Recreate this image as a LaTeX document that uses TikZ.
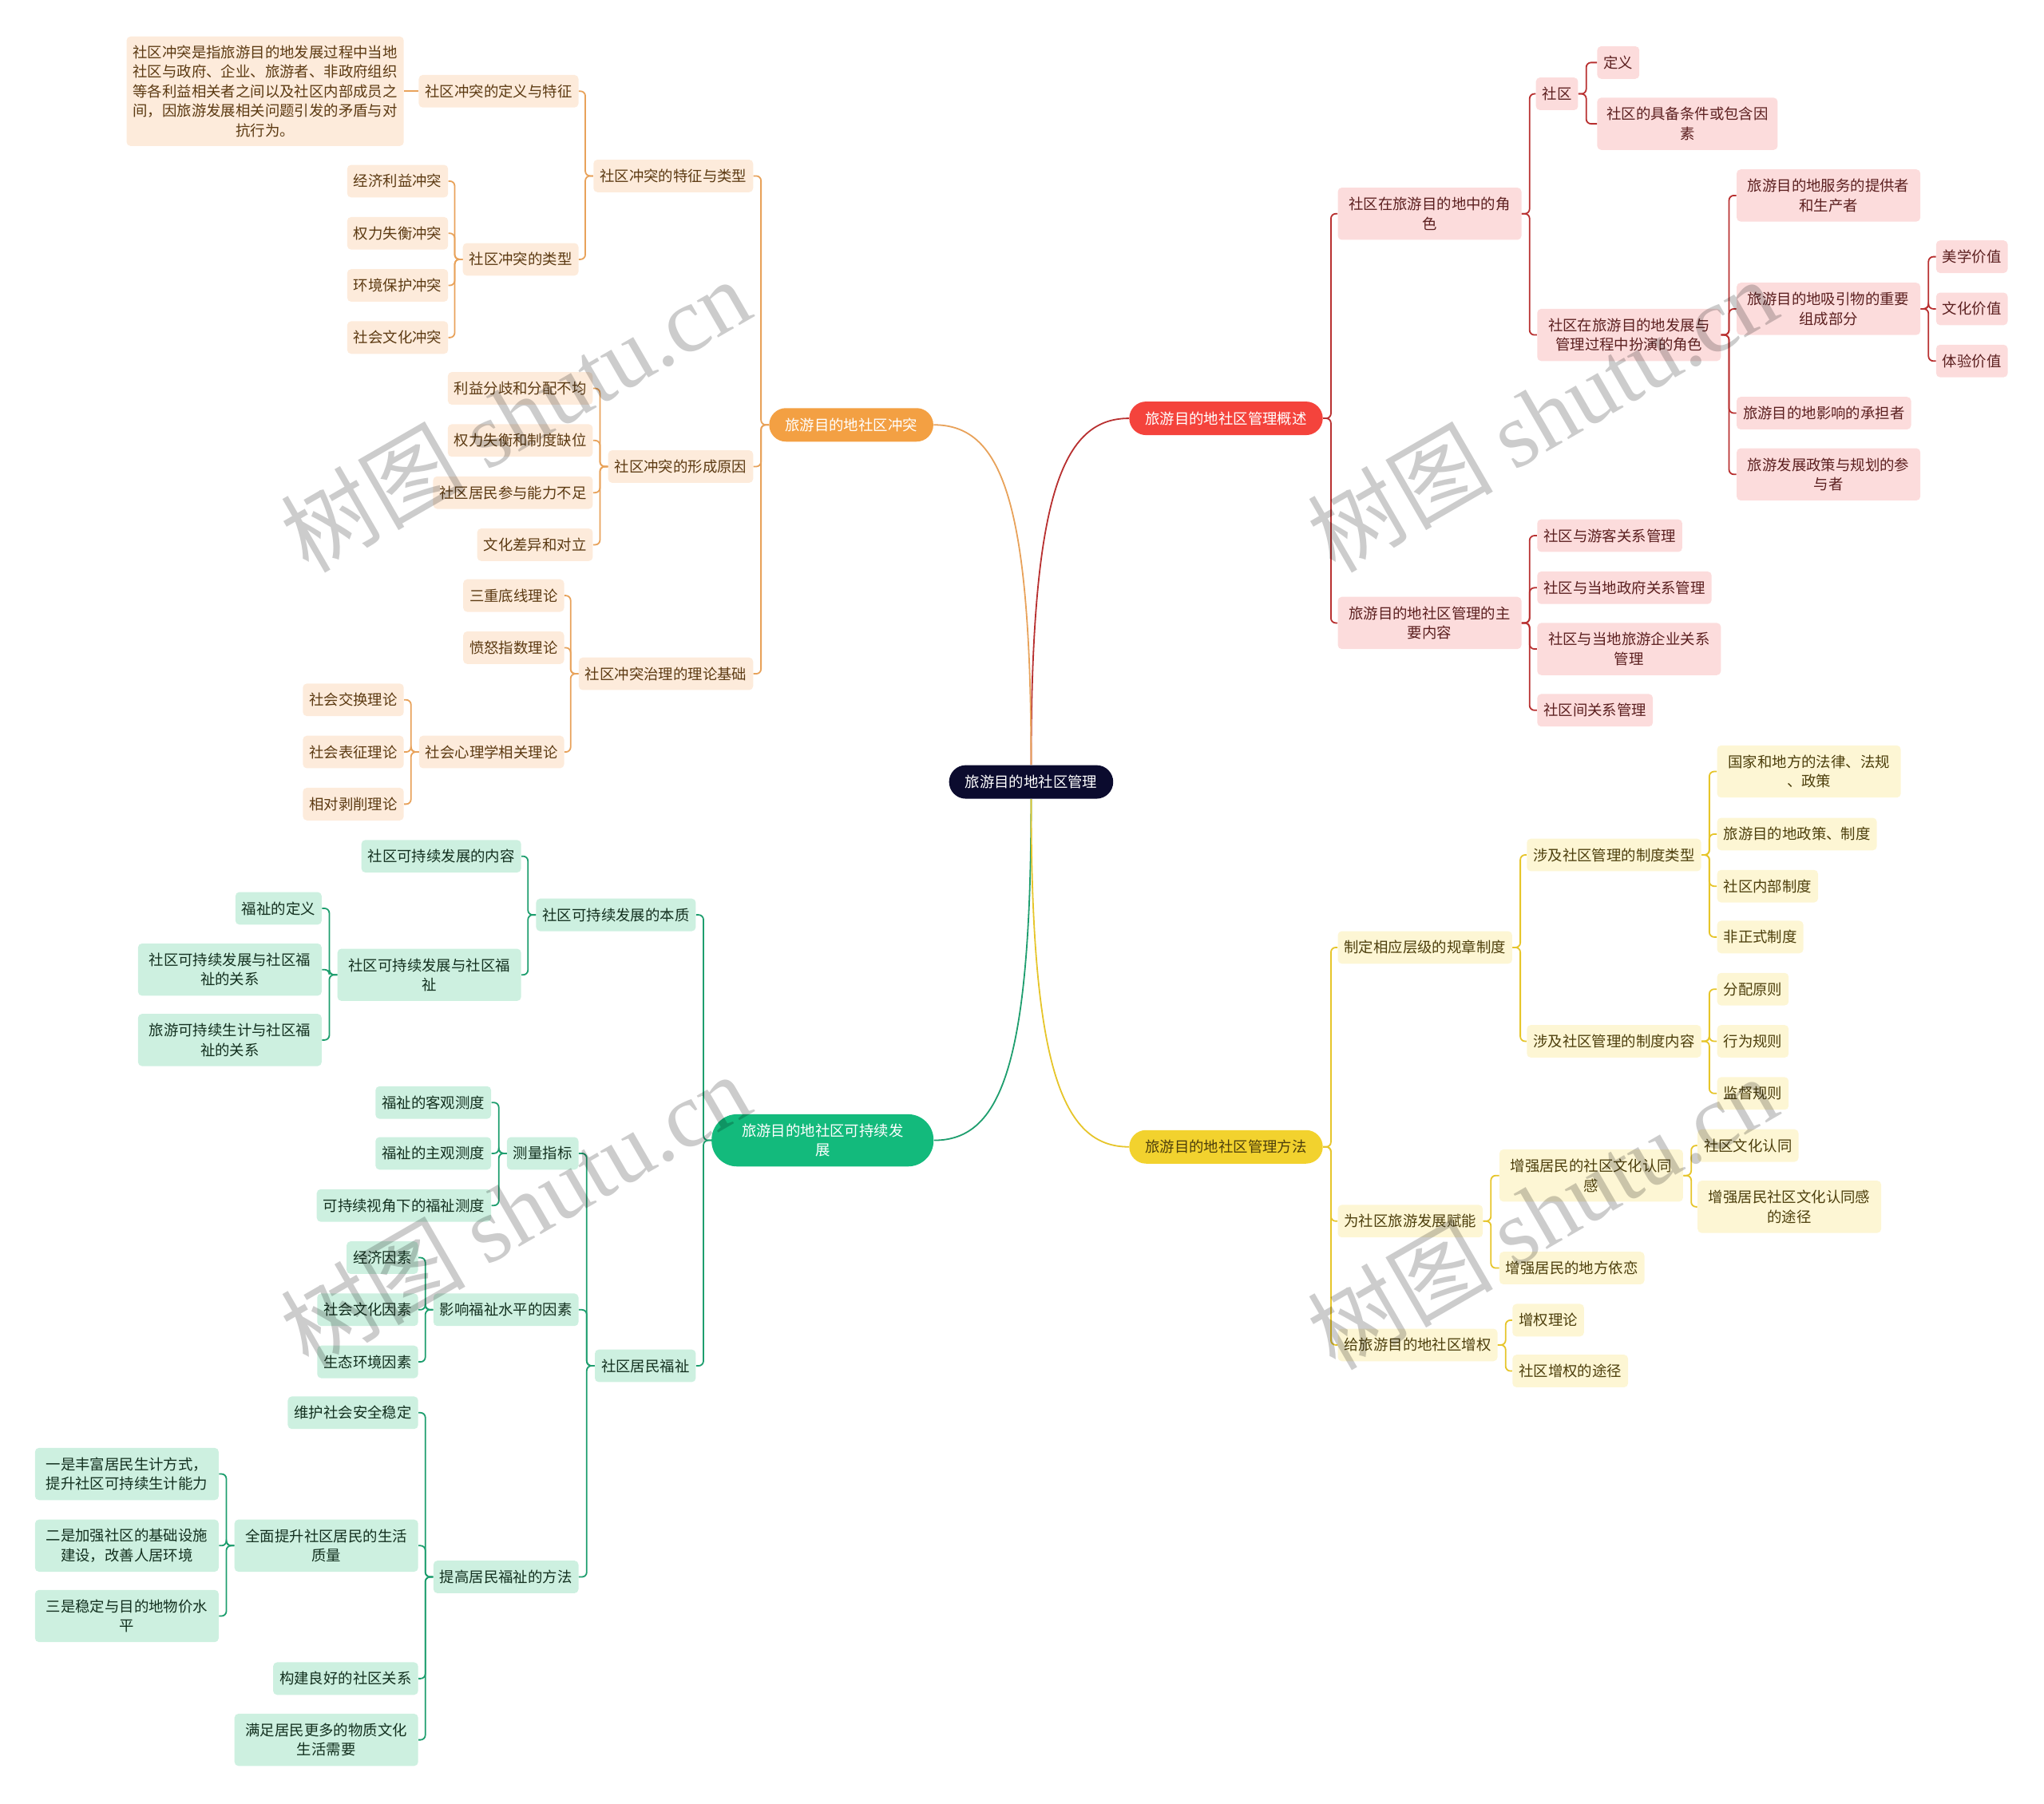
\documentclass[tikz,border=0pt]{standalone}
\usepackage{fontspec}
\setmainfont{Noto Sans CJK SC}
\newfontfamily\wmserif{Liberation Serif}
\newcommand\nfs{\fontsize{9.2pt}{12.2pt}\selectfont}
\definecolor{rootc}{HTML}{0B0B2E}
\definecolor{redp}{HTML}{F4433C}
\definecolor{orp}{HTML}{F3A043}
\definecolor{grp}{HTML}{13BA7C}
\definecolor{yep}{HTML}{F2D22E}
\definecolor{redf}{HTML}{FCDCDC}
\definecolor{orf}{HTML}{FDEBDB}
\definecolor{grf}{HTML}{CDF0E0}
\definecolor{yef}{HTML}{FDF6D4}
\definecolor{redt}{HTML}{5B1F1F}
\definecolor{ort}{HTML}{5C3A12}
\definecolor{grt}{HTML}{13301F}
\definecolor{yet}{HTML}{4D3F0C}
\definecolor{redl}{HTML}{B83030}
\definecolor{orl}{HTML}{E8A25A}
\definecolor{grl}{HTML}{1E9E6E}
\definecolor{yel}{HTML}{E6C52A}
\tikzset{
  box/.style={rounded corners=2.5pt, inner xsep=4pt, inner ysep=2pt, minimum height=20.4pt, font=\nfs, align=center},
  two/.style={minimum height=32.7pt, minimum width=115pt},
  rb/.style={box, fill=redf, text=redt, anchor=west},
  yb/.style={box, fill=yef, text=yet, anchor=west},
  ob/.style={box, fill=orf, text=ort, anchor=east},
  gb/.style={box, fill=grf, text=grt, anchor=east},
  pill/.style={rounded corners=10.5pt, inner xsep=10pt, inner ysep=2pt, minimum height=21pt, font=\nfs, align=center},
  conn/.style={line width=0.9pt, rounded corners=3pt},
  rl/.style={conn, draw=redl},
  ol/.style={conn, draw=orl},
  gl/.style={conn, draw=grl},
  yl/.style={conn, draw=yel},
  wm/.style={text=black, opacity=0.2, rotate=30, font=\fontsize{58pt}{60pt}\selectfont},
}
\begin{document}
\begin{tikzpicture}[x=0.8163pt,y=-0.8163pt]
\useasboundingbox (0,0) rectangle (1568,1384);

% root and main branches
\node[pill, fill=rootc, text=white] (root) at (791,600) {旅游目的地社区管理};
\node[pill, fill=redp, text=white] (rp) at (940.5,321) {旅游目的地社区管理概述};
\node[pill, fill=orp, text=white] (op) at (653,326) {旅游目的地社区冲突};
\node[pill, fill=grp, text=white, rounded corners=16pt, minimum width=139pt, minimum height=32.7pt] (gp) at (631,875) {旅游目的地社区可持续发\\展};
\node[pill, fill=yep, text=yet] (yp) at (940.5,880) {旅游目的地社区管理方法};

\draw[line width=0.9pt, redl] (root.north) .. controls (791,380) and (815,321) .. (rp.west);
\draw[line width=0.9pt, orl] (root.north) .. controls (791,380) and (767,326) .. (op.east);
\draw[line width=0.9pt, grl] (root.south) .. controls (791,820) and (767,875) .. (gp.east);
\draw[line width=0.9pt, yel] (root.south) .. controls (791,820) and (815,880) .. (yp.west);

% ---------- red branch ----------
\node[rb, two] (r1) at (1026,164) {社区在旅游目的地中的角\\色};
\node[rb, two] (r2) at (1026,478) {旅游目的地社区管理的主\\要内容};
\node[rb] (r11) at (1178,72) {社区};
\node[rb, two] (r12) at (1179,257) {社区在旅游目的地发展与\\管理过程中扮演的角色};
\node[rb] (r111) at (1225,48) {定义};
\node[rb, two, minimum width=113pt] (r112) at (1225,95) {社区的具备条件或包含因\\素};
\node[rb, two] (r121) at (1332,150) {旅游目的地服务的提供者\\和生产者};
\node[rb, two] (r122) at (1332,237) {旅游目的地吸引物的重要\\组成部分};
\node[rb] (r123) at (1332,317) {旅游目的地影响的承担者};
\node[rb, two] (r124) at (1332,364) {旅游发展政策与规划的参\\与者};
\node[rb] (r1221) at (1485,197) {美学价值};
\node[rb] (r1222) at (1485,237) {文化价值};
\node[rb] (r1223) at (1485,277) {体验价值};
\node[rb] (r21) at (1179,411) {社区与游客关系管理};
\node[rb] (r22) at (1179,451) {社区与当地政府关系管理};
\node[rb, two] (r23) at (1179,498) {社区与当地旅游企业关系\\管理};
\node[rb] (r24) at (1179,545) {社区间关系管理};

\foreach \c in {r1,r2} \draw[rl] (rp.east) -- ++(6,0) |- (\c.west);
\foreach \c in {r11,r12} \draw[rl] (r1.east) -- ++(6,0) |- (\c.west);
\foreach \c in {r111,r112} \draw[rl] (r11.east) -- ++(6,0) |- (\c.west);
\foreach \c in {r121,r122,r123,r124} \draw[rl] (r12.east) -- ++(6,0) |- (\c.west);
\foreach \c in {r1221,r1222,r1223} \draw[rl] (r122.east) -- ++(6,0) |- (\c.west);
\foreach \c in {r21,r22,r23,r24} \draw[rl] (r2.east) -- ++(6,0) |- (\c.west);

% ---------- yellow branch ----------
\node[yb] (y1) at (1026,727) {制定相应层级的规章制度};
\node[yb] (y2) at (1026,937) {为社区旅游发展赋能};
\node[yb] (y3) at (1026,1032) {给旅游目的地社区增权};
\node[yb] (y11) at (1171,656) {涉及社区管理的制度类型};
\node[yb] (y12) at (1171,799) {涉及社区管理的制度内容};
\node[yb, two] (y111) at (1317,592) {国家和地方的法律、法规\\、政策};
\node[yb] (y112) at (1317,640) {旅游目的地政策、制度};
\node[yb] (y113) at (1317,680) {社区内部制度};
\node[yb] (y114) at (1317,719) {非正式制度};
\node[yb] (y121) at (1317,759) {分配原则};
\node[yb] (y122) at (1317,799) {行为规则};
\node[yb] (y123) at (1317,839) {监督规则};
\node[yb, two] (y21) at (1150,902) {增强居民的社区文化认同\\感};
\node[yb] (y22) at (1150,973) {增强居民的地方依恋};
\node[yb] (y211) at (1302,879) {社区文化认同};
\node[yb, two] (y212) at (1302,926) {增强居民社区文化认同感\\的途径};
\node[yb] (y31) at (1160,1013) {增权理论};
\node[yb] (y32) at (1160,1052) {社区增权的途径};

\foreach \c in {y1,y2,y3} \draw[yl] (yp.east) -- ++(6,0) |- (\c.west);
\foreach \c in {y11,y12} \draw[yl] (y1.east) -- ++(6,0) |- (\c.west);
\foreach \c in {y111,y112,y113,y114} \draw[yl] (y11.east) -- ++(6,0) |- (\c.west);
\foreach \c in {y121,y122,y123} \draw[yl] (y12.east) -- ++(6,0) |- (\c.west);
\foreach \c in {y21,y22} \draw[yl] (y2.east) -- ++(6,0) |- (\c.west);
\foreach \c in {y211,y212} \draw[yl] (y21.east) -- ++(6,0) |- (\c.west);
\foreach \c in {y31,y32} \draw[yl] (y3.east) -- ++(6,0) |- (\c.west);

% ---------- orange branch ----------
\node[ob] (o1) at (578,135) {社区冲突的特征与类型};
\node[ob] (o2) at (578,358) {社区冲突的形成原因};
\node[ob] (o3) at (578,517) {社区冲突治理的理论基础};
\node[ob] (o11) at (444,70) {社区冲突的定义与特征};
\node[ob] (o12) at (444,199) {社区冲突的类型};
\node[ob, minimum height=68.6pt] (o111) at (310,70) {社区冲突是指旅游目的地发展过程中当地\\社区与政府、企业、旅游者、非政府组织\\等各利益相关者之间以及社区内部成员之\\间，因旅游发展相关问题引发的矛盾与对\\抗行为。};
\node[ob] (o121) at (344,139) {经济利益冲突};
\node[ob] (o122) at (344,179) {权力失衡冲突};
\node[ob] (o123) at (344,219) {环境保护冲突};
\node[ob] (o124) at (344,259) {社会文化冲突};
\node[ob] (o21) at (455,298) {利益分歧和分配不均};
\node[ob] (o22) at (455,338) {权力失衡和制度缺位};
\node[ob] (o23) at (455,378) {社区居民参与能力不足};
\node[ob] (o24) at (455,418) {文化差异和对立};
\node[ob] (o31) at (433,457) {三重底线理论};
\node[ob] (o32) at (433,497) {愤怒指数理论};
\node[ob] (o33) at (433,577) {社会心理学相关理论};
\node[ob] (o331) at (310,537) {社会交换理论};
\node[ob] (o332) at (310,577) {社会表征理论};
\node[ob] (o333) at (310,617) {相对剥削理论};

\foreach \c in {o1,o2,o3} \draw[ol] (op.west) -- ++(-6,0) |- (\c.east);
\foreach \c in {o11,o12} \draw[ol] (o1.west) -- ++(-6,0) |- (\c.east);
\draw[ol] (o11.west) -- (o111.east);
\foreach \c in {o121,o122,o123,o124} \draw[ol] (o12.west) -- ++(-6,0) |- (\c.east);
\foreach \c in {o21,o22,o23,o24} \draw[ol] (o2.west) -- ++(-6,0) |- (\c.east);
\foreach \c in {o31,o32,o33} \draw[ol] (o3.west) -- ++(-6,0) |- (\c.east);
\foreach \c in {o331,o332,o333} \draw[ol] (o33.west) -- ++(-6,0) |- (\c.east);

% ---------- green branch ----------
\node[gb] (g1) at (534,702) {社区可持续发展的本质};
\node[gb] (g2) at (534,1048) {社区居民福祉};
\node[gb] (g11) at (400,657) {社区可持续发展的内容};
\node[gb, two] (g12) at (400,748) {社区可持续发展与社区福\\祉};
\node[gb] (g121) at (247,697) {福祉的定义};
\node[gb, two] (g122) at (247,744) {社区可持续发展与社区福\\祉的关系};
\node[gb, two] (g123) at (247,798) {旅游可持续生计与社区福\\祉的关系};
\node[gb] (g21) at (444,885) {测量指标};
\node[gb] (g22) at (444,1005) {影响福祉水平的因素};
\node[gb] (g23) at (444,1210) {提高居民福祉的方法};
\node[gb] (g211) at (377,846) {福祉的客观测度};
\node[gb] (g212) at (377,885) {福祉的主观测度};
\node[gb] (g213) at (377,925) {可持续视角下的福祉测度};
\node[gb] (g221) at (321,965) {经济因素};
\node[gb] (g222) at (321,1005) {社会文化因素};
\node[gb] (g223) at (321,1045) {生态环境因素};
\node[gb] (g231) at (321,1084) {维护社会安全稳定};
\node[gb, two] (g232) at (321,1186) {全面提升社区居民的生活\\质量};
\node[gb] (g233) at (321,1288) {构建良好的社区关系};
\node[gb, two] (g234) at (321,1335) {满足居民更多的物质文化\\生活需要};
\node[gb, two] (g2321) at (168,1131) {一是丰富居民生计方式，\\提升社区可持续生计能力};
\node[gb, two] (g2322) at (168,1186) {二是加强社区的基础设施\\建设，改善人居环境};
\node[gb, two] (g2323) at (168,1240) {三是稳定与目的地物价水\\平};

\foreach \c in {g1,g2} \draw[gl] (gp.west) -- ++(-6,0) |- (\c.east);
\foreach \c in {g11,g12} \draw[gl] (g1.west) -- ++(-6,0) |- (\c.east);
\foreach \c in {g121,g122,g123} \draw[gl] (g12.west) -- ++(-6,0) |- (\c.east);
\foreach \c in {g21,g22,g23} \draw[gl] (g2.west) -- ++(-6,0) |- (\c.east);
\foreach \c in {g211,g212,g213} \draw[gl] (g21.west) -- ++(-6,0) |- (\c.east);
\foreach \c in {g221,g222,g223} \draw[gl] (g22.west) -- ++(-6,0) |- (\c.east);
\foreach \c in {g231,g232,g233,g234} \draw[gl] (g23.west) -- ++(-6,0) |- (\c.east);
\foreach \c in {g2321,g2322,g2323} \draw[gl] (g232.west) -- ++(-6,0) |- (\c.east);

% ---------- watermarks ----------
\node[wm] (wm1) at (395,318) {树图 {\wmserif shutu.cn}};
\node[wm] (wm2) at (1183,318) {树图 {\wmserif shutu.cn}};
\node[wm] (wm3) at (395,928) {树图 {\wmserif shutu.cn}};
\node[wm] (wm4) at (1183,930) {树图 {\wmserif shutu.cn}};
\end{tikzpicture}
\end{document}
